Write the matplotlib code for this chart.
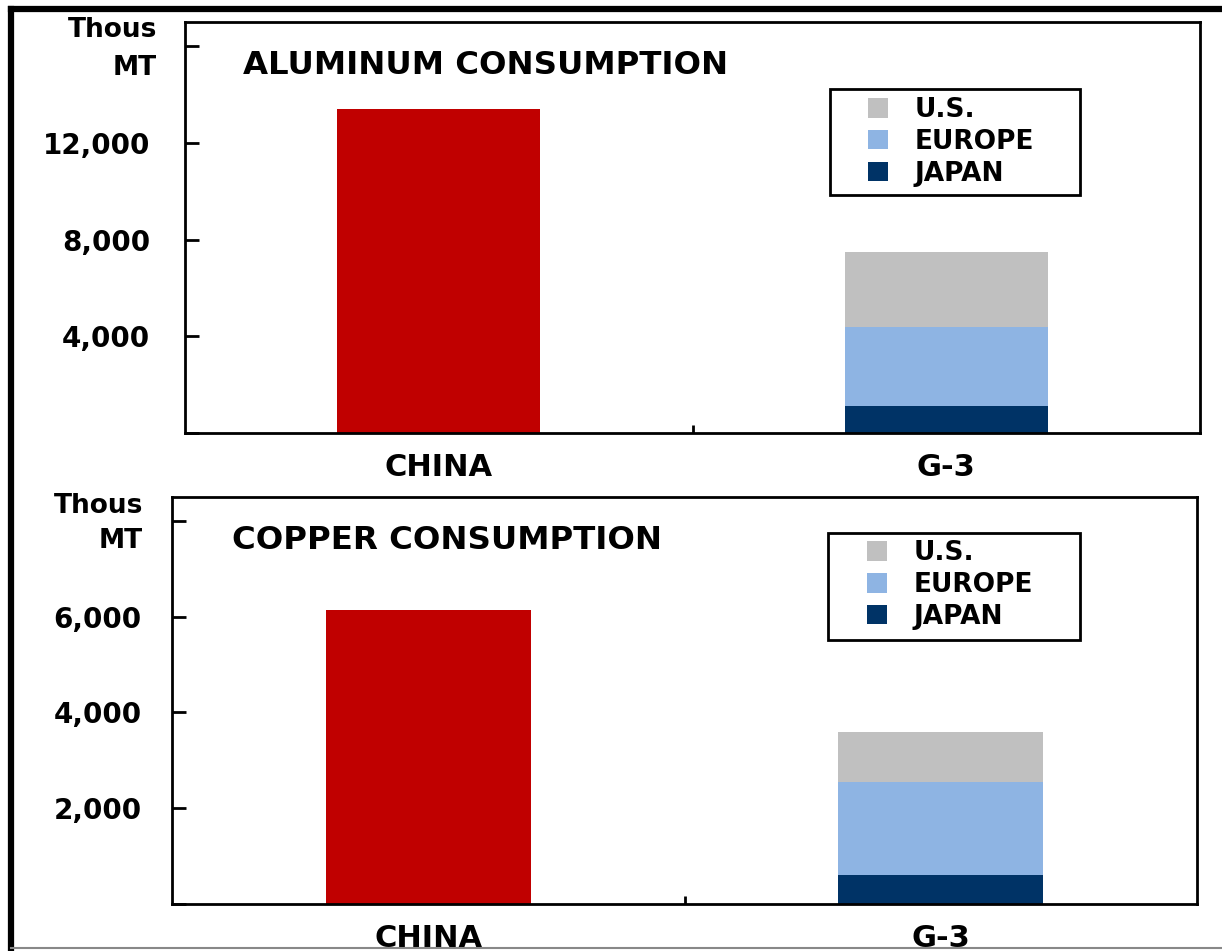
import matplotlib
matplotlib.use('Agg')
import matplotlib.pyplot as plt
from matplotlib.patches import Patch, Rectangle
from matplotlib.lines import Line2D

# consumption, thousand metric tons
categories = ['CHINA', 'G-3']
g3_regions = ['JAPAN', 'EUROPE', 'U.S.']          # stacked bottom to top

aluminum_china = 13400
aluminum_g3 = [1100, 3300, 3100]                  # Japan, Europe, U.S.
aluminum_ticks = [0, 4000, 8000, 12000, 16000]
aluminum_tick_labels = ['', '4,000', '8,000', '12,000', '']

copper_china = 6150
copper_g3 = [600, 1950, 1050]                     # Japan, Europe, U.S.
copper_ticks = [0, 2000, 4000, 6000, 8000]
copper_tick_labels = ['', '2,000', '4,000', '6,000', '']

CHINA_RED = '#C00000'
REGION_COLORS = ['#003366', '#8EB4E3', '#C0C0C0']

W, H = 1222, 951
plt.rcParams['font.family'] = 'DejaVu Sans'
plt.rcParams['font.weight'] = 'bold'


def px_rect(left, top, right, bottom):
    ''' Figure-fraction rect from pixel edges '''
    return [left / W, 1 - bottom / H, (right - left) / W, (bottom - top) / H]


def draw_panel(ax, title, china_value, g3_values, ymax, ticks, tick_labels,
               label_pad, title_xy, legend_frame, legend_anchor):
    ax.bar(0, china_value, width=0.4, color=CHINA_RED)
    bottom = 0
    for value, color in zip(g3_values, REGION_COLORS):
        ax.bar(1, value, bottom=bottom, width=0.4, color=color)
        bottom += value

    ax.set_xlim(-0.5, 1.5)
    ax.set_ylim(0, ymax)
    ax.set_yticks(ticks)
    ax.set_yticklabels(tick_labels)
    ax.tick_params(axis='y', direction='in', length=10, width=2,
                   pad=label_pad, labelsize=20)
    ax.set_xticks([0.5])
    ax.set_xticklabels([])
    ax.tick_params(axis='x', direction='in', length=6, width=2)
    for spine in ax.spines.values():
        spine.set_linewidth(2)

    for x, name in enumerate(categories):
        ax.annotate(name, xy=(x, 0), xycoords=('data', 'axes fraction'),
                    xytext=(0, -43), textcoords='offset pixels',
                    ha='center', va='baseline', fontsize=22, fontweight='bold')

    ax.text(title_xy[0], title_xy[1], title, transform=ax.transAxes,
            fontsize=23.3, fontweight='bold', va='center', ha='left')

    # legend: U.S. on top, Japan at the bottom
    handles = [Patch(facecolor=c) for c in REGION_COLORS[::-1]]
    ax.legend(handles, g3_regions[::-1], loc='upper left',
              bbox_to_anchor=legend_anchor, frameon=False,
              borderpad=0, borderaxespad=0, handlelength=0.76,
              handleheight=0.76, handletextpad=1.0, labelspacing=0.22,
              prop={'size': 19, 'weight': 'bold'})
    x0, y0, x1, y1 = legend_frame
    ax.add_patch(Rectangle((x0, y0), x1 - x0, y1 - y0, transform=ax.transAxes,
                           fill=False, edgecolor='black', linewidth=2,
                           clip_on=False))


def main():
    fig = plt.figure(figsize=(W / 100, H / 100), dpi=100)

    ax_top = fig.add_axes(px_rect(185, 22, 1200, 433))
    draw_panel(ax_top, 'ALUMINUM CONSUMPTION', aluminum_china, aluminum_g3,
               17000, aluminum_ticks, aluminum_tick_labels, 25,
               (0.057, 0.893), (0.635, 0.579, 0.882, 0.837), (0.673, 0.8175))

    ax_bottom = fig.add_axes(px_rect(172, 497, 1197, 904))
    draw_panel(ax_bottom, 'COPPER CONSUMPTION', copper_china, copper_g3,
               8500, copper_ticks, copper_tick_labels, 22,
               (0.0585, 0.894), (0.64, 0.6486, 0.886, 0.9115), (0.678, 0.894))

    # unit labels above the value axes
    for x, y_thous, y_mt in [(157, 30, 68), (143, 506, 541)]:
        fig.text(x / W, 1 - y_thous / H, 'Thous', ha='right', va='center',
                 fontsize=19, fontweight='bold')
        fig.text(x / W, 1 - y_mt / H, 'MT', ha='right', va='center',
                 fontsize=19, fontweight='bold')

    # page frame
    fig.add_artist(Line2D([11 / W, 11 / W], [1 - 9 / H, 0], color='black',
                          linewidth=4.5, transform=fig.transFigure))
    fig.add_artist(Line2D([11 / W, 1], [1 - 9 / H, 1 - 9 / H], color='black',
                          linewidth=4.5, transform=fig.transFigure))
    fig.add_artist(Line2D([11 / W, 1], [1 - 948 / H, 1 - 948 / H],
                          color='#888888', linewidth=1.5,
                          transform=fig.transFigure))

    fig.savefig('out.png', dpi=100)


if __name__ == '__main__':
    main()
